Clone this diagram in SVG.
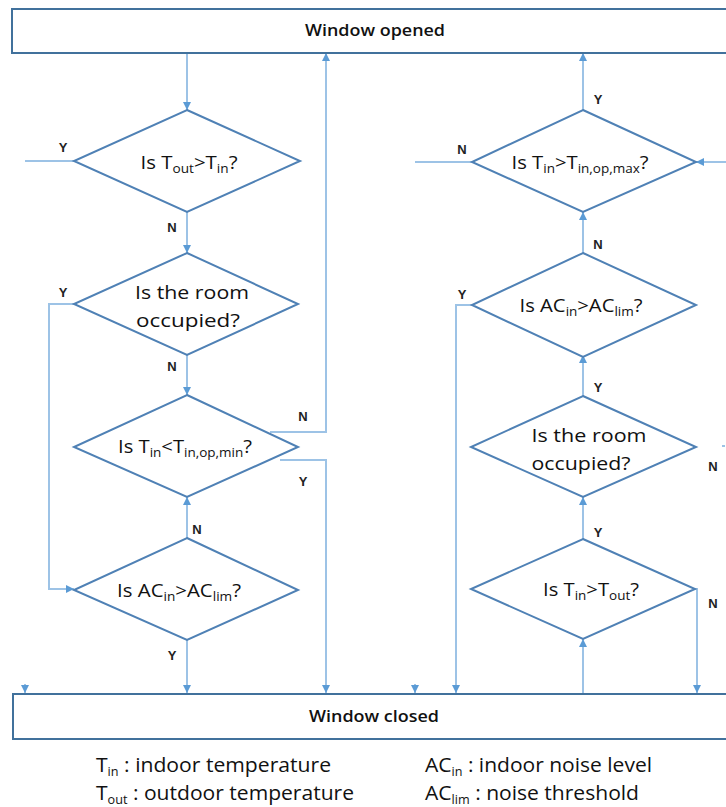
<svg xmlns="http://www.w3.org/2000/svg" width="726" height="807" viewBox="0 0 726 807">
<defs>
<marker id="ah" viewBox="0 0 10 10" refX="10" refY="5" markerWidth="8" markerHeight="8" markerUnits="userSpaceOnUse" orient="auto">
<path d="M0,0 L10,5 L0,10 Z" fill="#5b9bd5"/>
</marker>
<style>
.box{fill:#fff;stroke:#41719c;stroke-width:2}
.dia{fill:#fff;stroke:#4f81b5;stroke-width:2}
.con{fill:none;stroke:#9dc3e6;stroke-width:2}
.arr{marker-end:url(#ah)}
.t{font-family:"Open Sans","Liberation Sans",sans-serif;font-size:18px;fill:#111;text-anchor:middle}
.bt{font-family:"Open Sans","Liberation Sans",sans-serif;font-size:16px;font-weight:600;fill:#111;text-anchor:middle}
.lb{font-family:"Liberation Sans",sans-serif;font-size:13px;font-weight:bold;fill:#222;text-anchor:middle}
.lg{font-family:"Open Sans","Liberation Sans",sans-serif;font-size:20px;fill:#111}
.s{font-size:12px}
</style>
</defs>
<rect width="726" height="807" fill="#fff"/>
<g id="connectors">
<path class="con arr" d="M187,53 V110"/>
<path class="con" d="M25,161 H74"/>
<path class="con arr" d="M25,684 V693"/>
<path class="con arr" d="M187,212 V253"/>
<path class="con arr" d="M74,304 H49 V589 H74"/>
<path class="con arr" d="M187,355 V395"/>
<path class="con arr" d="M270,432 H326 V53"/>
<path class="con arr" d="M280,460 H326 V693"/>
<path class="con arr" d="M187,538 V497"/>
<path class="con arr" d="M187,640 V693"/>
<path class="con arr" d="M583,110 V53"/>
<path class="con" d="M472,162 H415"/>
<path class="con arr" d="M415,684 V693"/>
<path class="con arr" d="M726,162 H696"/>
<path class="con arr" d="M583,253 V212"/>
<path class="con arr" d="M472,305 H456 V693"/>
<path class="con arr" d="M583,396 V355"/>
<path class="con arr" d="M583,539 V497"/>
<path class="con arr" d="M583,693 V639"/>
<path class="con arr" d="M695,589 H697 V693"/>
<path class="con" d="M722,446 H725"/>
</g>
<g id="window-opened">
<rect class="box" x="12" y="9" width="720" height="44"/>
<text class="bt" x="375" y="36" textLength="140" lengthAdjust="spacingAndGlyphs">Window opened</text>
</g>
<g id="window-closed">
<rect class="box" x="13" y="694" width="720" height="45"/>
<text class="bt" x="374" y="722" textLength="130" lengthAdjust="spacingAndGlyphs">Window closed</text>
</g>
<g id="d1">
<polygon class="dia" points="187,110 300,161 187,212 74,161"/>
<text class="t" x="189" y="169" textLength="97" lengthAdjust="spacingAndGlyphs">Is T<tspan class="s" dy="4">out</tspan><tspan dy="-4">&gt;T</tspan><tspan class="s" dy="4">in</tspan><tspan dy="-4">?</tspan></text>
</g>
<g id="d2">
<polygon class="dia" points="187,253 298,304 187,355 74,304"/>
<text class="t" x="192" y="299" textLength="114" lengthAdjust="spacingAndGlyphs">Is  the room</text>
<text class="t" x="188" y="327" textLength="104" lengthAdjust="spacingAndGlyphs">occupied?</text>
</g>
<g id="d3">
<polygon class="dia" points="187,395 298,447 187,497 74,447"/>
<text class="t" x="185" y="453" textLength="134" lengthAdjust="spacingAndGlyphs">Is T<tspan class="s" dy="4">in</tspan><tspan dy="-4">&lt;T</tspan><tspan class="s" dy="4">in,op,min</tspan><tspan dy="-4">?</tspan></text>
</g>
<g id="d4">
<polygon class="dia" points="187,538 298,590 187,640 74,590"/>
<text class="t" x="179" y="597" textLength="124" lengthAdjust="spacingAndGlyphs">Is AC<tspan class="s" dy="4">in</tspan><tspan dy="-4">&gt;AC</tspan><tspan class="s" dy="4">lim</tspan><tspan dy="-4">?</tspan></text>
</g>
<g id="r1">
<polygon class="dia" points="583,110 696,162 583,212 472,162"/>
<text class="t" x="580" y="169" textLength="137" lengthAdjust="spacingAndGlyphs">Is T<tspan class="s" dy="4">in</tspan><tspan dy="-4">&gt;T</tspan><tspan class="s" dy="4">in,op,max</tspan><tspan dy="-4">?</tspan></text>
</g>
<g id="r2">
<polygon class="dia" points="583,253 696,305 583,357 472,305"/>
<text class="t" x="581" y="312" textLength="123" lengthAdjust="spacingAndGlyphs">Is AC<tspan class="s" dy="4">in</tspan><tspan dy="-4">&gt;AC</tspan><tspan class="s" dy="4">lim</tspan><tspan dy="-4">?</tspan></text>
</g>
<g id="r3">
<polygon class="dia" points="583,396 696,447 583,497 471,447"/>
<text class="t" x="589" y="442" textLength="115" lengthAdjust="spacingAndGlyphs">Is  the room</text>
<text class="t" x="581" y="470" textLength="99" lengthAdjust="spacingAndGlyphs">occupied?</text>
</g>
<g id="r4">
<polygon class="dia" points="583,539 695,589 583,639 471,589"/>
<text class="t" x="591" y="596" textLength="96" lengthAdjust="spacingAndGlyphs">Is T<tspan class="s" dy="4">in</tspan><tspan dy="-4">&gt;T</tspan><tspan class="s" dy="4">out</tspan><tspan dy="-4">?</tspan></text>
</g>
<g id="labels">
<text class="lb" x="63" y="152">Y</text>
<text class="lb" x="172" y="232">N</text>
<text class="lb" x="63" y="297">Y</text>
<text class="lb" x="172" y="371">N</text>
<text class="lb" x="303" y="421">N</text>
<text class="lb" x="303" y="486">Y</text>
<text class="lb" x="197" y="534">N</text>
<text class="lb" x="172" y="660">Y</text>
<text class="lb" x="598" y="104">Y</text>
<text class="lb" x="462" y="154">N</text>
<text class="lb" x="598" y="249">N</text>
<text class="lb" x="462" y="299">Y</text>
<text class="lb" x="598" y="392">Y</text>
<text class="lb" x="713" y="471">N</text>
<text class="lb" x="598" y="537">Y</text>
<text class="lb" x="713" y="608">N</text>
</g>
<g id="legend">
<text class="lg" x="96" y="772" textLength="235" lengthAdjust="spacingAndGlyphs">T<tspan class="s" dy="4">in</tspan><tspan dy="-4"> : indoor temperature</tspan></text>
<text class="lg" x="96" y="800" textLength="258" lengthAdjust="spacingAndGlyphs">T<tspan class="s" dy="4">out</tspan><tspan dy="-4"> : outdoor temperature</tspan></text>
<text class="lg" x="425" y="772" textLength="227" lengthAdjust="spacingAndGlyphs">AC<tspan class="s" dy="4">in</tspan><tspan dy="-4"> : indoor noise level</tspan></text>
<text class="lg" x="425" y="800" textLength="214" lengthAdjust="spacingAndGlyphs">AC<tspan class="s" dy="4">lim</tspan><tspan dy="-4"> : noise threshold</tspan></text>
</g>
</svg>
